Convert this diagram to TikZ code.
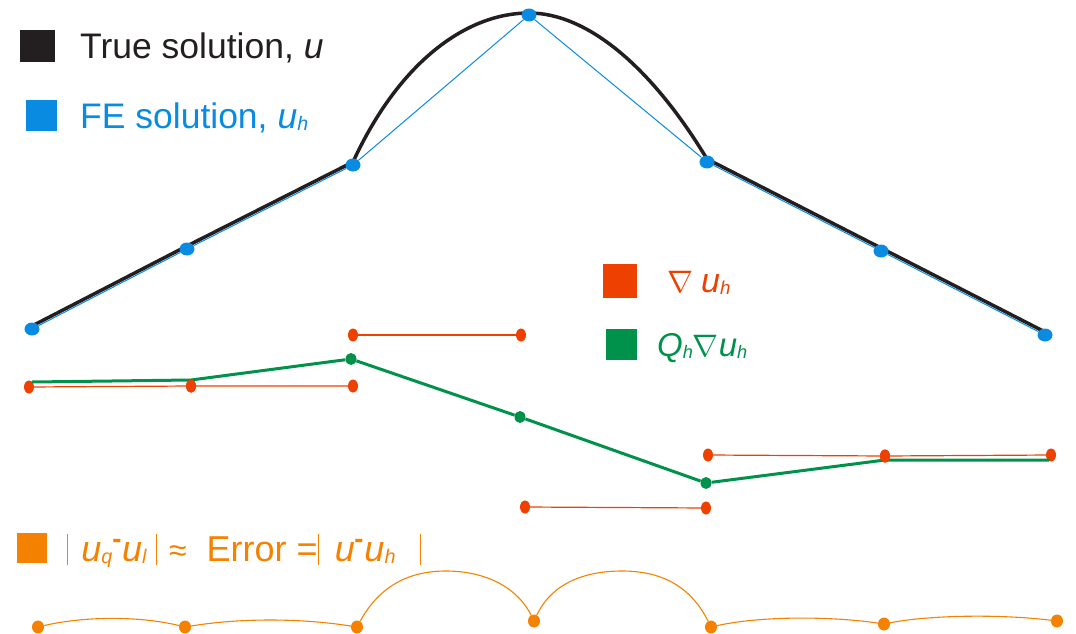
\documentclass[tikz,border=0pt]{standalone}
\usepackage{fontspec}
\setmainfont{Liberation Sans}
\usetikzlibrary{shapes.geometric}
\definecolor{truecol}{RGB}{35,31,32}
\definecolor{fecol}{RGB}{10,139,226}
\definecolor{gradcol}{RGB}{238,64,0}
\definecolor{reccol}{RGB}{0,145,74}
\definecolor{errcol}{RGB}{244,130,0}
\newcommand{\lowidx}[1]{\raisebox{-0.12ex}{\scalebox{0.55}{#1}}}
\newcommand{\errbar}{\rule[-4pt]{1.2pt}{31pt}}
\newcommand{\nab}{\scalebox{1.25}{$\nabla$}}
\newcommand{\updash}{\raisebox{0.45ex}{\scalebox{0.8}[1.2]{-}}}
\tikzset{
  keybox/.style={inner sep=0pt, minimum width=#1, minimum height=#1},
  fedot/.style={ellipse, fill=fecol, inner sep=0pt, minimum width=15pt, minimum height=13pt},
  graddot/.style={ellipse, fill=gradcol, inner sep=0pt, minimum width=10pt, minimum height=13pt},
  recdot/.style={ellipse, fill=reccol, inner sep=0pt, minimum width=11pt, minimum height=12pt},
  errdot/.style={ellipse, fill=errcol, inner sep=0pt, minimum width=12pt, minimum height=13pt},
  keytext/.style={anchor=base west, inner sep=0pt, font=\fontsize{#1}{#1}\selectfont},
}
\begin{document}
\begin{tikzpicture}[x=1pt,y=-1pt]
  \useasboundingbox (0,0) rectangle (1076,634);
  % legend
  \node[keybox=32pt, minimum width=35pt, fill=truecol] (keytrue) at (37,46) {};
  \node[keytext=35.5, text=truecol] (labtrue) at (80,59) {True solution, \textit{u}};
  \node[keybox=31pt, fill=fecol] (keyfe) at (41,115) {};
  \node[keytext=35.5, text=fecol] (labfe) at (80,128) {FE solution, \textit{u}\lowidx{\textit{h}}};
  \node[keybox=34pt, fill=gradcol] (keygrad) at (620,281) {};
  \node[keytext=34, text=gradcol] (labgrad) at (667,292) {\nab\hspace{8pt}\textit{u}\lowidx{\textit{h}}};
  \node[keybox=31pt, fill=reccol] (keyrec) at (621,344) {};
  \node[keytext=33, text=reccol] (labrec) at (657,356) {\textit{Q}\lowidx{\textit{h}}\nab\textit{u}\lowidx{\textit{h}}};
  \node[keybox=30pt, fill=errcol] (keyerr) at (32,548) {};
  \node[keytext=36, text=errcol] (laberr) at (67,561) {\errbar\hspace{13pt}\textit{u}\lowidx{\textit{q}}\updash\textit{u}\lowidx{\textit{l}}\hspace{9pt}\errbar\hspace{12pt}{\fontsize{32}{32}\selectfont ≈}\hspace{20pt}Error =\errbar\hspace{16pt}\textit{u}\updash\textit{u}\lowidx{\textit{h}}\hspace{24pt}\errbar};

  % true solution u
  \coordinate (t1) at (32,326);
  \coordinate (t2) at (187,246);
  \coordinate (t3) at (353,162);
  \coordinate (t4) at (529,13);
  \coordinate (t5) at (707,159);
  \coordinate (t6) at (881,248);
  \coordinate (t7) at (1045,332);
  \draw[truecol, line width=3.5pt, line join=round]
    (t1) -- (t2) -- (t3) .. controls (400,60) and (468,13) .. (t4)
    .. controls (588,13) and (652,68) .. (t5) -- (t6) -- (t7);

  % FE solution u_h
  \node[fedot] (f1) at (32,329) {};
  \node[fedot] (f2) at (187,249) {};
  \node[fedot] (f3) at (353,165) {};
  \node[fedot] (f4) at (529,15) {};
  \node[fedot] (f5) at (707,162) {};
  \node[fedot] (f6) at (881,251) {};
  \node[fedot] (f7) at (1045,335) {};
  \draw[fecol, line width=1pt] (f1) -- (f2) -- (f3) -- (f4) -- (f5) -- (f6) -- (f7);

  % gradient of u_h
  \node[graddot] (r1) at (29,387) {};
  \node[graddot] (r2) at (191,386) {};
  \node[graddot] (r3) at (353,386) {};
  \node[graddot] (r4) at (353,335) {};
  \node[graddot] (r5) at (521,335) {};
  \node[graddot] (r6) at (525,507) {};
  \node[graddot] (r7) at (706,508) {};
  \node[graddot] (r8) at (708,455) {};
  \node[graddot] (r9) at (885,456) {};
  \node[graddot] (r10) at (1051,455) {};
  \draw[gradcol, line width=1.2pt] (r1) -- (r2) -- (r3);
  \draw[gradcol, line width=1.2pt] (r4) -- (r5);
  \draw[gradcol, line width=1.2pt] (r6) -- (r7);
  \draw[gradcol, line width=1.2pt] (r8) -- (r9) -- (r10);

  % recovered gradient
  \coordinate (g1) at (32,382);
  \coordinate (g2) at (191,380);
  \node[recdot] (g3) at (351,359) {};
  \node[recdot] (g4) at (520,417) {};
  \node[recdot] (g5) at (706,483) {};
  \coordinate (g6) at (885,460);
  \coordinate (g7) at (1049,460);
  \draw[reccol, line width=3pt, line join=round] (g1) -- (g2) -- (g3) -- (g4) -- (g5) -- (g6) -- (g7);
  \node[graddot] at (r2) {};
  \node[graddot] at (r9) {};

  % error estimate
  \node[errdot] (o1) at (38,627) {};
  \node[errdot] (o2) at (185,627) {};
  \node[errdot] (o3) at (357,627) {};
  \node[errdot] (o4) at (534,621) {};
  \node[errdot] (o5) at (711,627) {};
  \node[errdot] (o6) at (884,624) {};
  \node[errdot] (o7) at (1057,621) {};
  \draw[errcol, line width=1.1pt]
    (o1) .. controls (85,616) and (140,616) .. (o2)
    (o2) .. controls (240,618) and (300,618) .. (o3)
    (o3) .. controls (380,585) and (410,571) .. (446,571) .. controls (482,571) and (516,585) .. (o4)
    (o4) .. controls (552,583) and (585,571) .. (622,571) .. controls (660,571) and (690,585) .. (o5)
    (o5) .. controls (760,616) and (830,616) .. (o6)
    (o6) .. controls (930,615) and (1000,614) .. (o7);
\end{tikzpicture}
\end{document}
